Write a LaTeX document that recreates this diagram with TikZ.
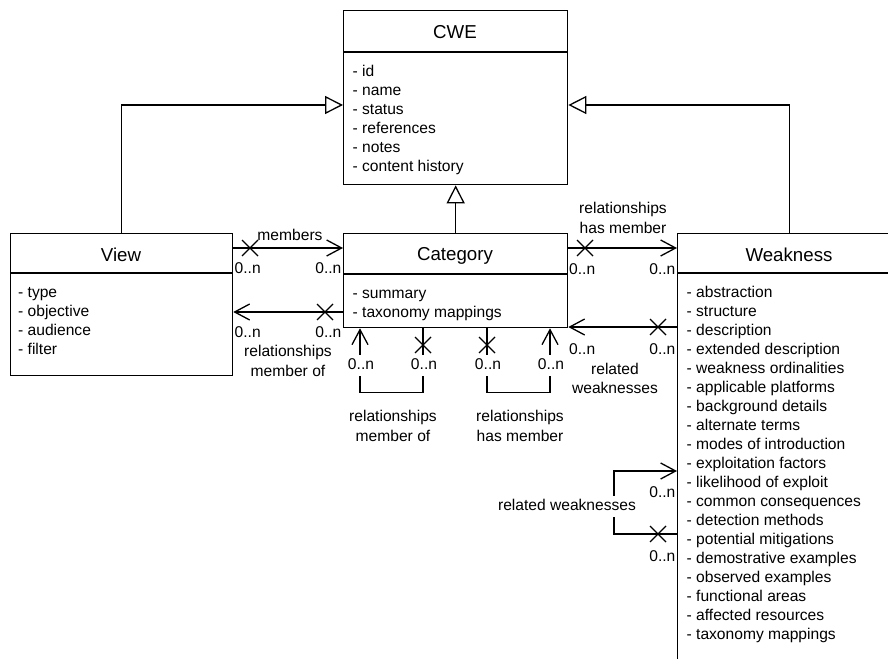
\documentclass[tikz,border=0pt]{standalone}
\usepackage{fontspec}
\setmainfont{Liberation Sans}
\usetikzlibrary{arrows.meta}
\begin{document}
\begin{tikzpicture}[x=1bp, y=-1bp, line width=1.3bp,
  umlbox/.style={draw, fill=white, inner sep=0pt, anchor=north west, minimum width=224bp},
  classname/.style={font=\fontsize{18.7bp}{22bp}\selectfont, inner sep=0pt, text height=13.4bp, text depth=0pt},
  attrs/.style={font=\fontsize{15.6bp}{19bp}\selectfont, inner sep=0pt, align=left, anchor=north west},
  lbl/.style={font=\fontsize{15.6bp}{19bp}\selectfont, inner sep=0pt},
  mlbl/.style={font=\fontsize{15.6bp}{19.5bp}\selectfont, inner sep=0pt, align=center, anchor=north},
  bglbl/.style={lbl, fill=white, inner xsep=1bp, inner ysep=3bp, text height=11.2bp, text depth=3.3bp, anchor=base},
  assoc/.style={-{Straight Barb[length=15bp, width=16bp]}},
  inherit/.style={-{Triangle[length=18bp, width=18bp, fill=white]}},
  xcross/.pic={\draw (-8,-8) -- (8,8) (-8,8) -- (8,-8);}
]
\useasboundingbox (0,0) rectangle (888,659);
\clip (0,0) rectangle (888,659);

% ---- classes ----
\node[umlbox, minimum height=174bp] (cwe) at (343,10) {};
\node[umlbox, minimum width=222bp, minimum height=142bp] (view) at (10,233) {};
\node[umlbox, minimum height=94bp] (cat) at (343,233) {};
\node[umlbox, minimum height=440bp] (weak) at (677,233) {};

\draw ([yshift=-42bp]cwe.north west) -- ([yshift=-42bp]cwe.north east);
\draw ([yshift=-40bp]view.north west) -- ([yshift=-40bp]view.north east);
\draw ([yshift=-41bp]cat.north west) -- ([yshift=-41bp]cat.north east);
\draw ([yshift=-40bp]weak.north west) -- ([yshift=-40bp]weak.north east);

\node[classname] (cwe-name) at (455,32) {CWE};
\node[classname] (view-name) at (121,255) {View};
\node[classname] (cat-name) at (455,254) {Category};
\node[classname] (weak-name) at (789,255) {Weakness};

\node[attrs] (cwe-attrs) at (352,62.7) {\strut- id\\- name\\- status\\- references\\- notes\\- content history};
\node[attrs] (view-attrs) at (17.5,283.7) {\strut- type\\- objective\\- audience\\- filter};
\node[attrs] (cat-attrs) at (352,284.7) {\strut- summary\\- taxonomy mappings};
\node[attrs] (weak-attrs) at (686,283.7) {\strut- abstraction\\- structure\\- description\\- extended description\\- weakness ordinalities\\- applicable platforms\\- background details\\- alternate terms\\- modes of introduction\\- exploitation factors\\- likelihood of exploit\\- common consequences\\- detection methods\\- potential mitigations\\- demostrative examples\\- observed examples\\- functional areas\\- affected resources\\- taxonomy mappings};

% ---- generalisation ----
\draw[inherit] (view.north) |- (cwe.west |- 0,105);
\draw[inherit] (weak.north) |- (cwe.east |- 0,105);
\draw[inherit] (cat.north) -- (cwe.south);

% ---- View / Category ----
\draw[assoc] (view.east |- 0,248) -- (cat.west |- 0,248);
\pic at (250,248) {xcross};
\node[lbl, anchor=base] (members) at (290,240.6) {members};
\node[lbl, anchor=base west] (m-from) at (234,273.6) {0..n};
\node[lbl, anchor=base east] (m-to) at (342,273.6) {0..n};

\draw[assoc] (cat.west |- 0,312) -- (view.east |- 0,312);
\pic at (325,312) {xcross};
\node[lbl, anchor=base west] (mo-to) at (234,337.6) {0..n};
\node[lbl, anchor=base east] (mo-from) at (342,337.6) {0..n};
\node[mlbl] (mo-name) at (288,342.4) {\strut relationships\\member of};

% ---- Category / Weakness ----
\draw[assoc] (cat.east |- 0,248) -- (weak.west |- 0,248);
\pic at (585,248) {xcross};
\node[lbl, anchor=base west] (hm-from) at (568.5,274.6) {0..n};
\node[lbl, anchor=base east] (hm-to) at (676,274.6) {0..n};
\node[mlbl] (hm-name) at (623,199.4) {\strut relationships\\has member};

\draw[assoc] (weak.west |- 0,327) -- (cat.east |- 0,327);
\pic at (658,327) {xcross};
\node[lbl, anchor=base west] (rw-to) at (568.5,354.6) {0..n};
\node[lbl, anchor=base east] (rw-from) at (676,354.6) {0..n};
\node[mlbl] (rw-name) at (615,360) {\strut related\\weaknesses};

% ---- Category self associations ----
\draw[assoc] (cat.south -| 423,0) -- ++(0,64) -| (cat.south -| 360,0);
\pic[rotate=90] at (423,345) {xcross};
\draw[assoc] (cat.south -| 487,0) -- ++(0,64) -| (cat.south -| 550,0);
\pic[rotate=90] at (487,345) {xcross};
\node[bglbl] (l1-to) at (361,369.6) {0..n};
\node[bglbl] (l1-from) at (424,369.6) {0..n};
\node[bglbl] (l2-from) at (488,369.6) {0..n};
\node[bglbl] (l2-to) at (551,369.6) {0..n};
\node[mlbl] (l1-name) at (393,407.4) {\strut relationships\\member of};
\node[mlbl] (l2-name) at (520,407.4) {\strut relationships\\has member};

% ---- Weakness self association ----
\draw[assoc] (weak.west |- 0,534) -| (614,471) -- (weak.west |- 0,471);
\pic at (658,534) {xcross};
\node[bglbl] (wl-name) at (567,510.6) {related weaknesses};
\node[lbl, anchor=base east] (wl-to) at (676,497.6) {0..n};
\node[lbl, anchor=base east] (wl-from) at (676,561.6) {0..n};
\end{tikzpicture}
\end{document}
